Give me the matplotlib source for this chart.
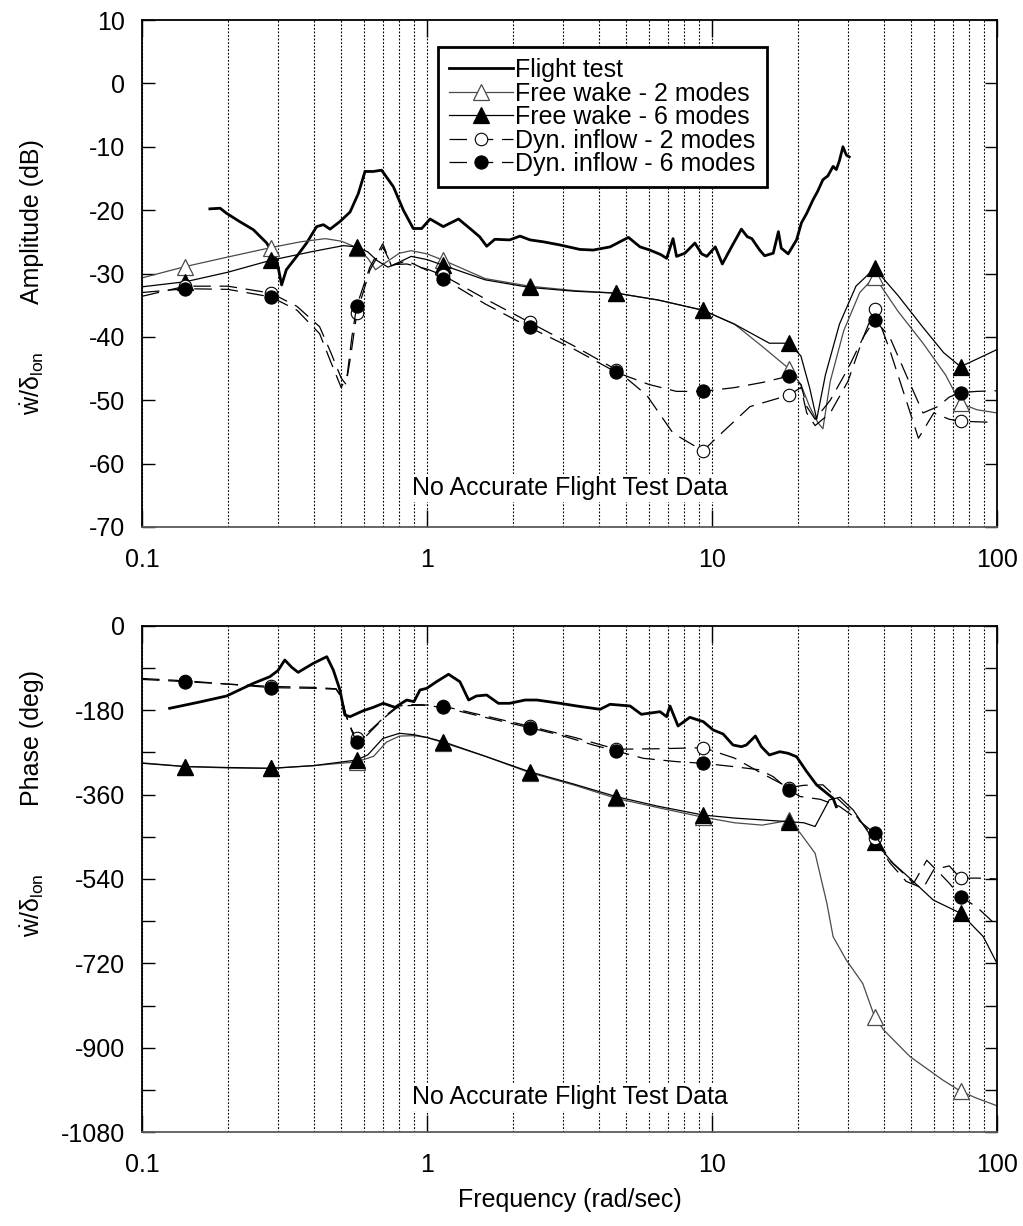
import numpy as np
import matplotlib
matplotlib.use("Agg")
import matplotlib.pyplot as plt
from matplotlib.ticker import FixedLocator, NullFormatter, LogLocator

plt.rcParams['font.family'] = ['Liberation Sans', 'DejaVu Sans']
plt.rcParams['mathtext.fontset'] = 'custom'
plt.rcParams['mathtext.rm'] = 'Liberation Sans'
plt.rcParams['mathtext.it'] = 'Liberation Sans'
plt.rcParams['mathtext.bf'] = 'Liberation Sans'

FS = 18

# ---------------- data ----------------
marker_freq = [0.142, 0.284, 0.567, 1.14, 2.29, 4.62, 9.3, 18.6, 37.2, 74.5]

# Flight test amplitude (dB)
ft_amp_f = [0.173, 0.188, 0.198, 0.22, 0.246, 0.274, 0.297, 0.309, 0.321, 0.349, 0.378,
            0.41, 0.433, 0.457, 0.495, 0.537, 0.574, 0.606, 0.648, 0.693, 0.762, 0.826,
            0.895, 0.958, 1.025, 1.14, 1.29, 1.415, 1.53, 1.62, 1.73, 1.95, 2.12, 2.30,
            2.56, 2.93, 3.44, 3.83, 4.39, 5.09, 5.59, 6.05, 6.6, 6.93, 7.30, 7.51, 8.03,
            8.71, 9.2, 9.59, 10.27, 10.87, 11.71, 12.68, 13.3, 13.8, 14.7, 15.3, 16.4,
            17.1, 17.5, 18.5, 19.8, 20.6, 21.5, 22.6, 23.5, 24.5, 25.5, 26.6, 27.3, 28.0,
            28.8, 29.6, 30.3]
ft_amp = [-19.8, -19.7, -20.5, -21.8, -23.1, -25.2, -27.9, -31.8, -29.4, -27.3, -25.2,
          -22.6, -22.3, -23.0, -21.8, -20.3, -17.4, -13.9, -13.9, -13.7, -16.3, -20.0,
          -22.9, -22.9, -21.4, -22.6, -21.4, -22.9, -24.2, -25.7, -24.6, -24.7, -24.1, -24.7,
          -25.0, -25.5, -26.2, -26.3, -25.8, -24.3, -25.8, -26.3, -27.0, -27.6, -24.5, -27.3,
          -26.8, -25.2, -26.9, -27.3, -25.8, -28.5, -25.8, -23.0, -24.2, -24.5, -26.3, -27.2,
          -26.8, -23.4, -26.0, -26.9, -24.7, -22.0, -20.5, -18.4, -17.0, -15.2, -14.6,
          -13.1, -13.6, -12.2, -10.0, -11.3, -11.6]

fw2_amp_f = [0.1, 0.142, 0.2, 0.284, 0.36, 0.44, 0.5, 0.567, 0.62, 0.66, 0.72, 0.8, 0.88,
             1.0, 1.14, 1.6, 2.29, 3.3, 4.62, 6.5, 9.3, 12, 15, 18.6, 20.5, 22, 23.5, 24.5,
             26, 29, 33, 37.2, 45, 55, 66, 74.5, 85, 100]
fw2_amp = [-30.7, -28.9, -27.4, -25.9, -25.0, -24.5, -24.9, -25.9, -27.6, -29.4, -28.2,
           -26.8, -26.4, -26.9, -27.9, -30.8, -32.0, -32.7, -33.1, -34.2, -35.8, -38.0,
           -41.5, -45.0, -47.5, -51.0, -53.5, -54.5, -47.0, -39.0, -33.0, -30.5, -36.0,
           -41.0, -46.0, -50.5, -51.5, -52.0]

fw6_amp_f = [0.1, 0.142, 0.2, 0.284, 0.4, 0.509, 0.567, 0.62, 0.67, 0.73, 0.8, 0.88, 1.0,
             1.14, 1.6, 2.29, 3.3, 4.62, 6.5, 9.3, 12, 15.9, 18.6, 20.5, 22, 23.3, 25, 28,
             32, 37.2, 45, 55, 65, 74.5, 85, 100]
fw6_amp = [-32.1, -31.3, -29.8, -27.9, -26.5, -25.6, -25.8, -26.6, -28.0, -29.0, -28.2,
           -27.3, -27.8, -28.7, -31.0, -32.2, -32.8, -33.1, -34.2, -35.8, -38.0, -41.0,
           -41.0, -43.0, -48.0, -53.0, -46.0, -38.0, -32.0, -29.2, -33.5, -38.5, -42.5,
           -44.7, -43.5, -42.0]

di2_amp_f = [0.1, 0.142, 0.2, 0.284, 0.35, 0.42, 0.46, 0.5, 0.52, 0.54, 0.567, 0.63, 0.7,
             0.75, 0.85, 1.0, 1.14, 1.6, 2.29, 3.3, 4.62, 5.9, 7.3, 9.3, 10.5, 13.6, 18.6,
             20.5, 21.5, 23, 26, 30, 34, 37.2, 42, 48, 53, 60, 68, 74.5, 85, 100]
di2_amp = [-33.6, -32.0, -32.0, -33.1, -35.2, -38.4, -42.5, -46.5, -47.5, -43.0, -36.3,
           -29.5, -25.8, -28.6, -28.5, -29.3, -30.3, -34.0, -37.7, -41.5, -45.2, -49.2,
           -55.2, -58.0, -55.7, -51.0, -49.2, -48.0, -52.0, -54.0, -52.0, -47.0, -40.0,
           -35.6, -42.0, -50.0, -56.0, -52.0, -53.0, -53.3, -53.4, -53.5]

di6_amp_f = [0.1, 0.142, 0.2, 0.284, 0.35, 0.42, 0.46, 0.5, 0.525, 0.545, 0.567, 0.63, 0.7,
             0.75, 0.85, 1.0, 1.14, 1.6, 2.29, 3.3, 4.62, 6.0, 7.5, 9.3, 12, 15, 18.6, 20.5,
             21.5, 23, 26, 30, 34, 37.2, 42, 48, 55, 62, 68, 74.5, 85, 100]
di6_amp = [-33.0, -32.4, -32.5, -33.7, -35.8, -39.5, -44.0, -48.0, -46.0, -40.0, -35.1,
           -29.0, -25.3, -28.8, -28.0, -29.5, -30.8, -34.8, -38.5, -42.0, -45.6, -47.5,
           -48.6, -48.6, -48.0, -47.2, -46.2, -47.5, -51.0, -53.0, -50.0, -45.0, -40.0,
           -37.3, -40.0, -46.0, -52.0, -51.0, -49.5, -48.8, -48.6, -48.5]

# Phase (deg)
ft_ph_f = [0.125, 0.16, 0.198, 0.246, 0.281, 0.3, 0.317, 0.335, 0.353, 0.399, 0.445, 0.469,
           0.495, 0.515, 0.537, 0.598, 0.648, 0.702, 0.772, 0.849, 0.9, 0.945, 0.998, 1.08,
           1.19, 1.305, 1.40, 1.49, 1.62, 1.78, 1.95, 2.21, 2.43, 2.93, 3.35, 4.05, 4.39,
           5.16, 5.65, 6.57, 6.93, 7.12, 7.6, 8.36, 9.32, 10.1, 10.94, 11.85, 12.68, 13.2,
           14.2, 14.9, 15.9, 17.3, 18.5, 19.8, 21.5, 23.3, 25.3, 26.6, 27.3]
ft_ph = [-175.7, -162, -149.4, -122.3, -108.2, -95, -72.6, -88, -98.9, -79.7, -65.5, -93.9,
         -136.6, -190, -193.5, -180.7, -173.6, -165, -173.6, -158, -161.5, -136.6, -133,
         -118.9, -103, -119, -158, -149.4, -147.3, -165, -165, -158, -158, -165, -170.7,
         -177.8, -167.1, -170.7, -188.5, -182.9, -193.5, -170.7, -213.4, -194.9, -204.2,
         -222, -230.5, -254, -257.6, -254, -234.8, -257.6, -275.3, -268.3, -271.7, -279,
         -310.9, -339.4, -357, -367.8, -385.7]

fw2_ph_f = [0.1, 0.142, 0.2, 0.284, 0.4, 0.567, 0.65, 0.72, 0.8, 0.9, 1.0, 1.14, 1.6, 2.29,
            3.3, 4.62, 6.5, 9.3, 12, 15, 18.6, 20.4, 23, 25.3, 26.6, 29.6, 33.8, 37.2, 40,
            49.5, 64.5, 74.5, 85, 100]
fw2_ph = [-292, -300, -303, -304, -298, -290, -278, -248, -235, -234, -238, -249, -278,
          -313, -340, -368, -388, -408, -420, -425, -415, -442, -485, -592, -663, -713,
          -763, -834, -862, -919, -969, -993, -1008, -1024]

fw6_ph_f = [0.1, 0.142, 0.2, 0.284, 0.4, 0.567, 0.62, 0.7, 0.8, 0.9, 1.0, 1.14, 1.6, 2.29,
            3.3, 4.62, 6.5, 9.3, 12, 15.1, 18.6, 21, 23, 25.8, 28.1, 31.3, 37.2, 43.2, 49.5,
            59.7, 74.5, 89.5, 100]
fw6_ph = [-293, -300, -302, -303.7, -298, -286, -275, -240, -229, -232, -238, -247, -278,
          -311, -338, -364.3, -385, -403.4, -410, -414, -417.7, -420, -428, -371, -365.6,
          -392.7, -460, -506.5, -538.5, -584.8, -613, -663, -720]

di2_ph_f = [0.1, 0.142, 0.2, 0.284, 0.4, 0.48, 0.5, 0.52, 0.545, 0.567, 0.6, 0.666, 0.72,
            0.783, 0.85, 0.958, 1.14, 1.6, 2.29, 3.3, 4.62, 6.5, 9.3, 12, 15, 18.6, 21, 24.5,
            28, 32, 37.2, 42, 48, 55, 60, 68, 74.5, 85, 100]
di2_ph = [-112, -117, -124, -129, -131, -134, -150, -190, -222, -240, -235, -210, -190,
          -172, -168, -168, -171, -192, -214, -238, -263, -262, -259.7, -282, -315, -345,
          -340, -339, -372, -405, -453, -505, -545, -560, -520, -512, -538.5, -538, -540]

di6_ph_f = [0.1, 0.142, 0.2, 0.284, 0.4, 0.48, 0.5, 0.52, 0.545, 0.567, 0.6, 0.666, 0.72,
            0.783, 0.85, 0.958, 1.14, 1.6, 2.29, 2.93, 3.83, 4.62, 5.74, 7.51, 9.3, 11.85,
            14.7, 16.4, 18.6, 20.4, 24, 28, 32, 37.2, 42, 51, 56.7, 63, 68, 74.5, 85, 100]
di6_ph = [-114, -118.8, -124, -131.6, -133, -135, -152, -192, -225, -247, -240, -212, -192,
          -175, -170, -169, -173.6, -195, -217, -232.7, -254, -266.8, -282.4, -289.5, -293,
          -300, -307, -321.6, -350, -364, -370, -385, -410, -442.5, -500, -549, -500, -528,
          -549, -577.8, -600, -640]

legend_labels = ["Flight test", "Free wake - 2 modes", "Free wake - 6 modes",
                 "Dyn. inflow - 2 modes", "Dyn. inflow - 6 modes"]
note_text = "No Accurate Flight Test Data"

# ---------------- styles ----------------
GRAY = '#4a4a4a'
DASH = (0, (14, 7))
styles = [
    dict(color='black', lw=2.0, ls='-', marker=None),
    dict(color=GRAY, lw=0.9, ls='-', marker='^', ms=11, mfc='white', mec=GRAY, mew=0.9),
    dict(color='black', lw=0.9, ls='-', marker='^', ms=11, mfc='black', mec='black', mew=0.9),
    dict(color='black', lw=0.9, ls=DASH, marker='o', ms=9, mfc='white', mec='black', mew=0.8),
    dict(color='black', lw=0.9, ls=DASH, marker='o', ms=9.5, mfc='black', mec='black', mew=0.8),
]


def mark_idx(freqs):
    return [i for i, f in enumerate(freqs) if any(abs(f - m) < 1e-9 for m in marker_freq)]


def draw_series(ax, series):
    handles = []
    for (f, v), st, lab in zip(series, styles, legend_labels):
        kw = dict(st)
        if kw['marker'] is not None:
            kw['markevery'] = mark_idx(f)
        h, = ax.plot(f, v, label=lab, **kw)
        handles.append(h)
    return handles


def style_axes(ax):
    ax.set_xscale('log')
    ax.set_xlim(0.1, 100)
    ax.xaxis.set_major_locator(FixedLocator([0.1, 1, 10, 100]))
    ax.set_xticklabels(['0.1', '1', '10', '100'])
    ax.xaxis.set_minor_locator(LogLocator(base=10, subs=np.arange(2, 10), numticks=20))
    ax.xaxis.set_minor_formatter(NullFormatter())
    ax.grid(True, which='both', axis='x', color='black', lw=0.8, ls=(0, (1.6, 1.6)))
    ax.tick_params(axis='both', which='major', direction='in', length=9, width=1.0,
                   top=True, right=True, labelsize=FS, pad=12)
    ax.tick_params(axis='x', which='major', pad=15, length=12)
    ax.tick_params(axis='x', which='minor', length=0)
    for s in ax.spines.values():
        s.set_linewidth(1.3)
        s.set_color('black')
    ax.spines['bottom'].set_color('#5a5a5a')
    ax.set_axisbelow(True)


fig = plt.figure(figsize=(10.23, 12.26), dpi=100)
W, H = 1023, 1226
x0, x1 = 142, 997


def add_ax(top, bottom):
    return fig.add_axes([x0 / W, 1 - bottom / H, (x1 - x0) / W, (bottom - top) / H])


ax1 = add_ax(20, 527)
ax2 = add_ax(626, 1132)

amp_series = [(ft_amp_f, ft_amp), (fw2_amp_f, fw2_amp), (fw6_amp_f, fw6_amp),
              (di2_amp_f, di2_amp), (di6_amp_f, di6_amp)]
ph_series = [(ft_ph_f, ft_ph), (fw2_ph_f, fw2_ph), (fw6_ph_f, fw6_ph),
             (di2_ph_f, di2_ph), (di6_ph_f, di6_ph)]

h = draw_series(ax1, amp_series)
draw_series(ax2, ph_series)

style_axes(ax1)
ax1.set_ylim(-70, 10)
ax1.set_yticks(np.arange(-70, 11, 10))
ax1.set_yticklabels([str(v) for v in range(-70, 11, 10)])

style_axes(ax2)
ax2.set_ylim(-1080, 0)
ph_ticks = np.arange(-1080, 1, 90)
ax2.set_yticks(ph_ticks)
ax2.set_yticklabels([str(v) if v % 180 == 0 else '' for v in ph_ticks])
ax2.set_xlabel('Frequency (rad/sec)', fontsize=FS, labelpad=8)

for ax, yy in ((ax1, 0.077), (ax2, 0.069)):
    ax.text(0.5, yy, note_text, transform=ax.transAxes, ha='center', va='center',
            fontsize=FS, zorder=5,
            bbox=dict(facecolor='white', edgecolor='none', pad=1.5))

leg = ax1.legend(handles=h, loc='upper left', bbox_to_anchor=(0.346, 0.947),
                 borderaxespad=0, fontsize=FS, handlelength=2.55, handletextpad=0.1,
                 labelspacing=-0.02, borderpad=0.45, numpoints=1, fancybox=False,
                 framealpha=1, edgecolor='black')
leg.get_frame().set_linewidth(2.0)

# y-axis titles
fig.text(32 / W, 1 - 222 / H, 'Amplitude (dB)', rotation=90, ha='center', va='center',
         fontsize=FS)
fig.text(32 / W, 1 - 383 / H, r'$\dot{\mathrm{w}}/\mathrm{\delta}_{\mathrm{lon}}$',
         rotation=90, ha='center', va='center', fontsize=FS)
fig.text(32 / W, 1 - 738 / H, 'Phase (deg)', rotation=90, ha='center', va='center',
         fontsize=FS)
fig.text(32 / W, 1 - 905 / H, r'$\dot{\mathrm{w}}/\mathrm{\delta}_{\mathrm{lon}}$',
         rotation=90, ha='center', va='center', fontsize=FS)

fig.savefig('out.png', dpi=100)
